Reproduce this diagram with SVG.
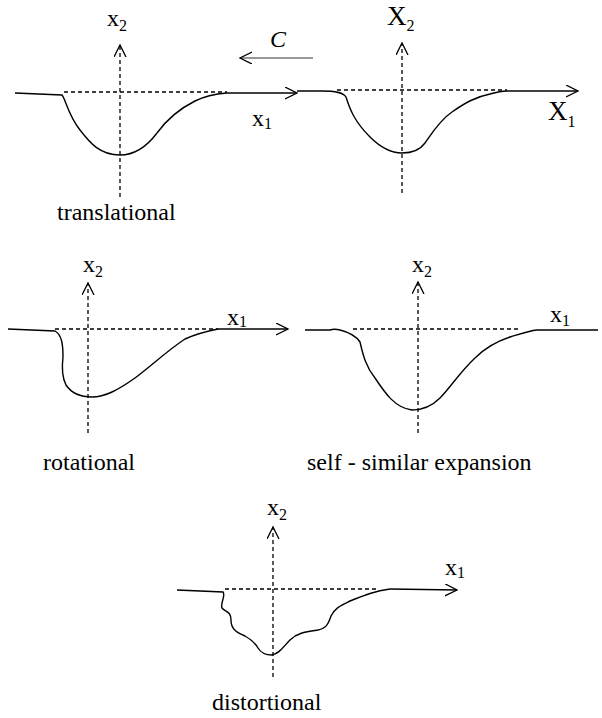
<svg xmlns="http://www.w3.org/2000/svg" width="602" height="718" viewBox="0 0 602 718">
<style>
.curve{fill:none;stroke:#000;stroke-width:1.4}
.axis{fill:none;stroke:#000;stroke-width:1.3;stroke-dasharray:4,3}
.solid{fill:none;stroke:#000;stroke-width:1.3}
text{font-family:"Liberation Serif","Times New Roman",serif;fill:#000}
.lab{font-size:24px}
.var{font-size:24px}
.big{font-size:27px}
.sub{font-size:16px}
</style>
<defs>
<marker id="ah" markerUnits="userSpaceOnUse" markerWidth="14" markerHeight="14" refX="12" refY="6" orient="auto">
<path d="M0,0 L12,6 L0,12" fill="none" stroke="#000" stroke-width="1.3" stroke-dasharray="none"/>
</marker>
</defs>
<rect width="602" height="718" fill="#fff"/>

<g id="translational">
<line class="axis" x1="64" y1="92" x2="227" y2="92"/>
<line class="axis" x1="120" y1="197" x2="120" y2="45" marker-end="url(#ah)"/>
<path class="curve" d="M15,93 L62,95 C66,100 68,115 80,130 C90,143 100,155 120,155 C135,155 148,145 157,133 C165,122 175,111 195,101 C205,96 215,94 227,93" />
<line class="solid" x1="227" y1="93" x2="297" y2="93" marker-end="url(#ah)"/>
<text class="var" x="107" y="26" font-family="Liberation Serif, serif">x<tspan class="sub" dy="5">2</tspan></text>
<text class="var" x="252" y="126" font-family="Liberation Serif, serif">x<tspan class="sub" dy="3">1</tspan></text>
<text class="lab" x="57" y="220" font-family="Liberation Serif, serif">translational</text>
</g>

<g id="moving-frame">
<line class="axis" x1="337" y1="90" x2="507" y2="90"/>
<line class="axis" x1="402" y1="193" x2="402" y2="43" marker-end="url(#ah)"/>
<path class="curve" d="M297,91 L322,91 C335,91 343,92 346,97 C350,110 355,122 370,137 C380,147 390,153 402,153 C413,153 420,150 425,143 C432,133 440,120 452,112 C465,103 475,97 490,94 C497,92 502,91 507,91"/>
<line class="solid" x1="507" y1="91" x2="578" y2="91" marker-end="url(#ah)"/>
<text class="big" x="387" y="25" font-family="Liberation Serif, serif">X<tspan class="sub" dy="6">2</tspan></text>
<text class="big" x="548" y="120" font-family="Liberation Serif, serif">X<tspan class="sub" dy="7">1</tspan></text>
</g>

<g id="rotational">
<line class="axis" x1="55" y1="329" x2="218" y2="329"/>
<line class="axis" x1="88" y1="433" x2="88" y2="283" marker-end="url(#ah)"/>
<path class="curve" d="M8,329 L55,331 C62,335 63,345 63,357 C62,365 61,375 66,385 C72,394 80,397 92,397 C105,397 118,390 135,378 C150,367 168,350 185,339 C198,333 208,331 218,329"/>
<line class="solid" x1="218" y1="329" x2="288" y2="329" marker-end="url(#ah)"/>
<text class="var" x="83" y="272" font-family="Liberation Serif, serif">x<tspan class="sub" dy="5">2</tspan></text>
<text class="var" x="227" y="325" font-family="Liberation Serif, serif">x<tspan class="sub" dy="2">1</tspan></text>
<text class="lab" x="43" y="470" font-family="Liberation Serif, serif">rotational</text>
</g>

<g id="self-similar">
<line class="axis" x1="353" y1="329" x2="520" y2="329"/>
<line class="axis" x1="418" y1="433" x2="418" y2="282" marker-end="url(#ah)"/>
<path class="curve" d="M305,330 L330,330 C333,329 336,329 340,330 C348,332 356,336 360,342 C363,355 366,367 375,378 C385,393 395,408 412,410 C422,410 432,406 440,398 C450,388 460,372 475,358 C485,348 495,342 510,337 C520,334 528,331 537,330 L598,330"/>
<text class="var" x="412" y="272" font-family="Liberation Serif, serif">x<tspan class="sub" dy="5">2</tspan></text>
<text class="var" x="550" y="322" font-family="Liberation Serif, serif">x<tspan class="sub" dy="4">1</tspan></text>
<text class="lab" x="307" y="470" font-family="Liberation Serif, serif">self - similar expansion</text>
</g>

<g id="distortional">
<line class="axis" x1="225" y1="589" x2="377" y2="589"/>
<line class="axis" x1="273" y1="677" x2="273" y2="527" marker-end="url(#ah)"/>
<path class="curve" d="M177,590 L223,592 C226,596 220,603 222,608 C225,612 231,611 231,620 C231,628 235,632 245,636 C252,640 255,643 258,648 C261,653 265,655 272,655 C280,653 283,647 290,640 C297,633 305,632 318,630 C326,628 328,625 331,616 C335,608 340,606 350,601 C365,595 375,591 390,589"/>
<line class="solid" x1="390" y1="589" x2="457" y2="590" marker-end="url(#ah)"/>
<text class="var" x="267" y="515" font-family="Liberation Serif, serif">x<tspan class="sub" dy="5">2</tspan></text>
<text class="var" x="445" y="575" font-family="Liberation Serif, serif">x<tspan class="sub" dy="3">1</tspan></text>
<text class="lab" x="212" y="710" font-family="Liberation Serif, serif">distortional</text>
</g>

<g id="connectors">
<line x1="313" y1="58" x2="240" y2="58" stroke="#333" stroke-width="1.2" marker-end="url(#ah)"/>
<text class="var" x="270" y="47" font-style="italic" font-family="Liberation Serif, serif">C</text>
</g>
</svg>
